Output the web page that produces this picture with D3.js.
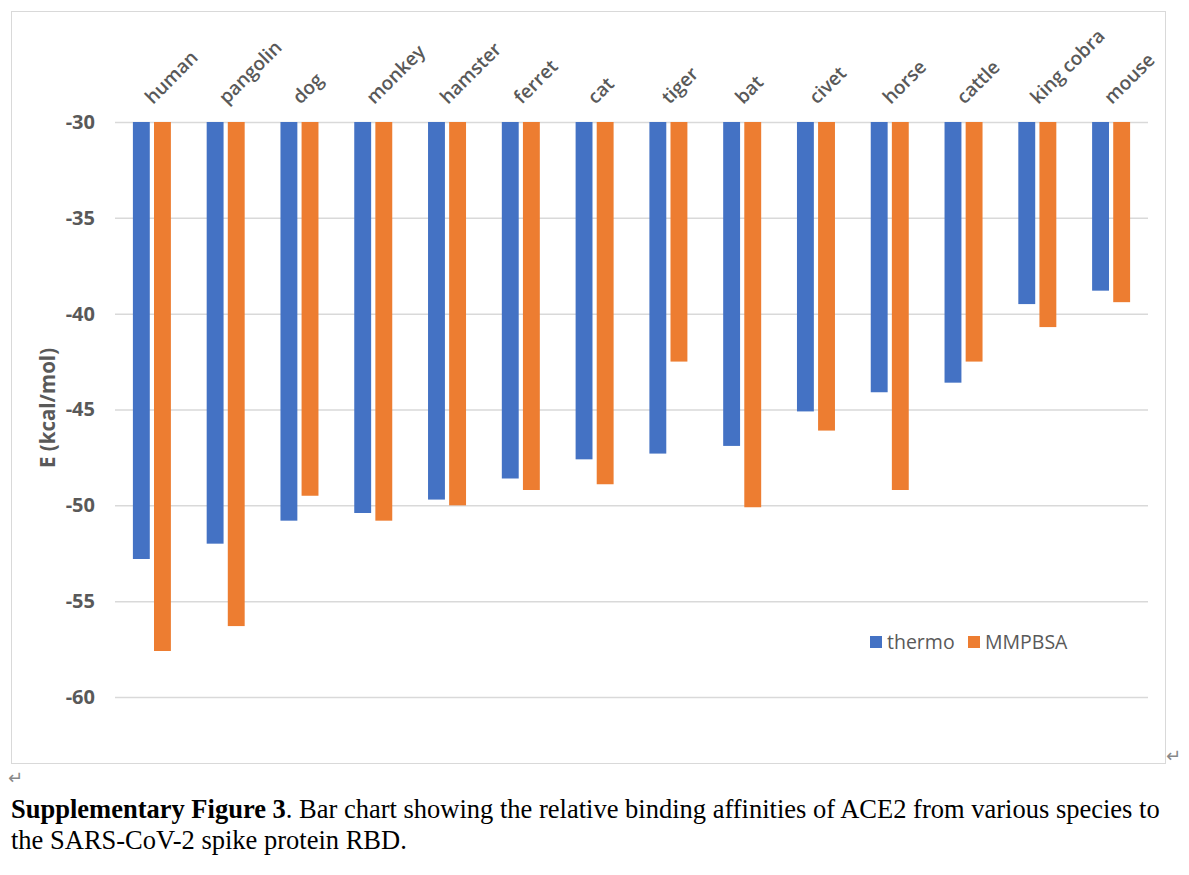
<!DOCTYPE html>
<html>
<head>
<meta charset="utf-8">
<script src="https://cdn.jsdelivr.net/npm/d3@7"></script>
<style>
  body { margin: 0; background: #fff; }
  svg { display: block; }
</style>
</head>
<body>
<script>
const species = ["human", "pangolin", "dog", "monkey", "hamster", "ferret", "cat",
  "tiger", "bat", "civet", "horse", "cattle", "king cobra", "mouse"];
const thermo = [-52.8, -52.0, -50.8, -50.4, -49.7, -48.6, -47.6,
  -47.3, -46.9, -45.1, -44.1, -43.6, -39.5, -38.8];
const mmpbsa = [-57.6, -56.3, -49.5, -50.8, -50.0, -49.2, -48.9,
  -42.5, -50.1, -46.1, -49.2, -42.5, -40.7, -39.4];
const seriesNames = ["thermo", "MMPBSA"];
const yTicks = [-30, -35, -40, -45, -50, -55, -60];

const colors = { thermo: "#4472C4", MMPBSA: "#ED7D31" };
const grey = "#595959";

const width = 1189, height = 875;

const svg = d3.select("body").append("svg")
  .attr("width", width)
  .attr("height", height);

// chart frame
svg.append("rect")
  .attr("x", 11.5).attr("y", 11.5)
  .attr("width", 1154).attr("height", 752)
  .attr("fill", "#fff")
  .attr("stroke", "#d9d9d9")
  .attr("stroke-width", 1);

const y = d3.scaleLinear().domain([-30, -60]).range([122, 697]);
const x0 = d3.scaleBand().domain(species).range([115, 1148]);
const x1 = d3.scaleBand().domain(seriesNames).range([-19, 19]).paddingInner(0.2);

// gridlines + tick labels
const yAxis = d3.axisLeft(y)
  .tickValues(yTicks)
  .tickSize(-(1148 - 115))
  .tickPadding(20)
  .tickFormat(d => String(d));

const gy = svg.append("g")
  .attr("transform", "translate(115,0)")
  .call(yAxis);
gy.select(".domain").remove();
gy.selectAll(".tick line")
  .attr("stroke", "#d9d9d9")
  .attr("stroke-width", 1.5);
gy.selectAll(".tick text")
  .attr("fill", grey)
  .style("font-family", "'Open Sans', sans-serif")
  .style("font-weight", "700")
  .style("font-size", "20px");

const rows = species.map((s, i) => ({ s, thermo: thermo[i], MMPBSA: mmpbsa[i] }));

const groups = svg.append("g").selectAll("g")
  .data(rows)
  .join("g")
  .attr("transform", d => "translate(" + (x0(d.s) + x0.bandwidth() / 2) + ",0)");

groups.selectAll("rect")
  .data(d => seriesNames.map(k => ({ k, v: d[k] })))
  .join("rect")
  .attr("x", d => x1(d.k))
  .attr("width", x1.bandwidth())
  .attr("y", y(-30))
  .attr("height", d => y(d.v) - y(-30))
  .attr("fill", d => colors[d.k]);

// category labels, rotated
svg.append("g").selectAll("text")
  .data(species)
  .join("text")
  .attr("transform", d => "translate(" + (x0(d) + x0.bandwidth() / 2 + 1) + ",105) rotate(-45)")
  .attr("fill", grey)
  .style("font-family", "'Open Sans', sans-serif")
  .style("font-weight", "600")
  .style("font-size", "19px")
  .text(d => d);

// y axis title
svg.append("text")
  .attr("transform", "translate(55,408) rotate(-90)")
  .attr("text-anchor", "middle")
  .attr("fill", grey)
  .style("font-family", "'Open Sans', sans-serif")
  .style("font-weight", "700")
  .style("font-size", "20.5px")
  .text("E (kcal/mol)");

// legend
const legend = svg.append("g").attr("transform", "translate(870,636)");
const legendX = [0, 98];
seriesNames.forEach((k, i) => {
  legend.append("rect")
    .attr("x", legendX[i]).attr("y", 0)
    .attr("width", 12).attr("height", 12)
    .attr("fill", colors[k]);
  legend.append("text")
    .attr("x", legendX[i] + 17).attr("y", 13)
    .attr("fill", grey)
    .style("font-family", "'Open Sans', sans-serif")
    .style("font-size", "19.5px")
    .text(k);
});

// document marks
svg.append("text")
  .attr("x", 1166).attr("y", 762)
  .attr("fill", "#888")
  .style("font-family", "'DejaVu Sans', sans-serif")
  .style("font-size", "18px")
  .text("\u21B5");
svg.append("text")
  .attr("x", 8).attr("y", 784)
  .attr("fill", "#888")
  .style("font-family", "'DejaVu Sans', sans-serif")
  .style("font-size", "18px")
  .text("\u21B5");

// caption
const cap = svg.append("g")
  .style("font-family", "'Liberation Serif', 'Times New Roman', serif")
  .style("font-size", "26.5px")
  .attr("fill", "#000");
const line1 = cap.append("text").attr("x", 11).attr("y", 818);
line1.append("tspan").style("font-weight", "700").text("Supplementary Figure 3");
line1.append("tspan").text(". Bar chart showing the relative binding affinities of ACE2 from various species to");
cap.append("text").attr("x", 11).attr("y", 849)
  .text("the SARS-CoV-2 spike protein RBD.");
</script>
</body>
</html>
